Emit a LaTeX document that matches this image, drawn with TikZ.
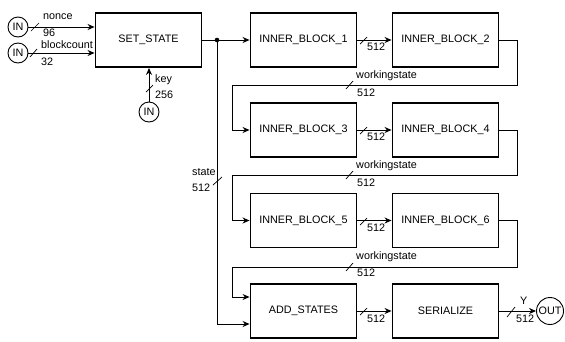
\documentclass[tikz,border=0pt]{standalone}
\usepackage{fontspec}
\setmainfont{Liberation Sans}
\usetikzlibrary{arrows.meta}
\begin{document}
\begin{tikzpicture}[x=1pt,y=-1pt,
  font=\fontsize{10.8}{12}\selectfont,
  blk/.style={draw,line width=1.9pt,minimum width=106pt,minimum height=54pt,inner sep=0pt},
  port/.style={draw,circle,line width=0.9pt,minimum size=20pt,inner sep=0pt},
  wire/.style={line width=1pt},
  arr/.style={wire,-{Stealth[length=7pt,width=6pt]}},
  bus/.style={line width=0.7pt},
  lbl/.style={inner sep=0pt,anchor=west}]
\useasboundingbox (0,0) rectangle (565,341);
% blocks
\node[blk] (set) at (148.5,40) {SET\_STATE};
\node[blk] (ib1) at (303.5,40) {INNER\_BLOCK\_1};
\node[blk] (ib2) at (445.5,40) {INNER\_BLOCK\_2};
\node[blk] (ib3) at (303.5,130) {INNER\_BLOCK\_3};
\node[blk] (ib4) at (445.5,130) {INNER\_BLOCK\_4};
\node[blk] (ib5) at (303.5,220.5) {INNER\_BLOCK\_5};
\node[blk] (ib6) at (445.5,220.5) {INNER\_BLOCK\_6};
\node[blk] (add) at (303.5,311) {ADD\_STATES};
\node[blk] (ser) at (445.5,311) {SERIALIZE};
% ports
\node[port] (innonce) at (18,27) {IN};
\node[port] (inblock) at (18,53) {IN};
\node[port] (inkey) at (149,112) {IN};
\node[port,minimum size=27pt] (out) at (550,311) {OUT};
% inputs
\draw[arr] (innonce.east) -- (set.west |- innonce.east);
\draw[bus] (31,31) -- (39,23);
\node[lbl] (nonce) at (43,17) {nonce};
\node[lbl] (n96) at (43,33) {96};
\draw[arr] (inblock.east) -- (set.west |- inblock.east);
\draw[bus] (30,57) -- (37,49);
\node[lbl] (blockcount) at (41,45) {blockcount};
\node[lbl] (n32) at (41,62) {32};
\draw[arr] (inkey.north) -- (set.south -| inkey.north);
\draw[bus] (146,92) -- (153,85);
\node[lbl] (key) at (155,80) {key};
\node[lbl] (n256) at (155,95) {256};
% set -> ib1, state bus
\coordinate (j) at (217,40);
\draw[arr] (set.east) -- (ib1.west);
\fill (j) circle (2.3pt);
\draw[arr] (j) |- (add.west |- 0,324);
\draw[bus] (213,185) -- (222,177);
\node[lbl] (state) at (192,172) {state};
\node[lbl] (s512) at (192,188) {512};
% horizontal links
\draw[arr] (ib1.east) -- (ib2.west);
\draw[bus] (360,44) -- (367,37);
\node[lbl] at (367,47) {512};
\draw[arr] (ib3.east) -- (ib4.west);
\draw[bus] (360,134) -- (367,127);
\node[lbl] at (367,137) {512};
\draw[arr] (ib5.east) -- (ib6.west);
\draw[bus] (360,225) -- (367,218);
\node[lbl] at (367,228) {512};
\draw[arr] (add.east) -- (ser.west);
\draw[bus] (360,315) -- (367,308);
\node[lbl] at (367,319) {512};
% loops
\draw[arr] (ib2.east) -- (517,40) |- (232,85) |- (ib3.west);
\draw[bus] (346,89) -- (353,81);
\node[lbl] at (356,76) {workingstate};
\node[lbl] at (357,93) {512};
\draw[arr] (ib4.east) -- (517,130) |- (232,175) |- (ib5.west);
\draw[bus] (346,179) -- (353,171);
\node[lbl] at (356,166) {workingstate};
\node[lbl] at (357,183) {512};
\draw[arr] (ib6.east) -- (517,220.5) |- (232,267) |- (add.west |- 0,297);
\draw[bus] (346,271) -- (353,263);
\node[lbl] at (356,257) {workingstate};
\node[lbl] at (357,273) {512};
% output
\draw[arr] (ser.east) -- (out.west);
\draw[bus] (507,317) -- (515,307);
\node[lbl] at (520,301) {Y};
\node[lbl] at (516,319) {512};
\end{tikzpicture}
\end{document}
